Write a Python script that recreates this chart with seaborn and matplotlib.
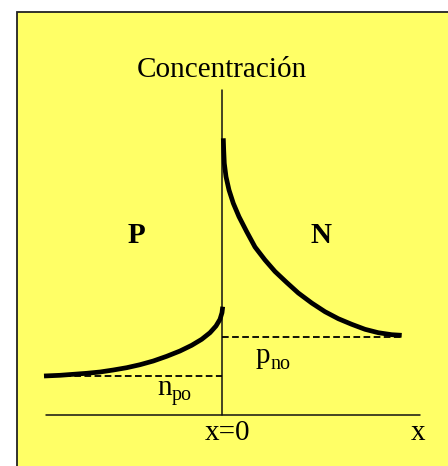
import matplotlib
matplotlib.use('Agg')
import matplotlib.pyplot as plt
from matplotlib.patches import Rectangle
import seaborn as sns

# curve samples (x relative to junction, concentration above baseline)
n_side_x = [1.3, 1.7, 2.3, 4, 7, 11.3, 17, 24.7, 33, 43, 53, 64.7, 76.3, 89.7,
            103, 116.3, 129.7, 143, 156.3, 169.7, 179.7]
n_side_y = [276.7, 265, 251.7, 238.3, 225, 211.7, 198.3, 183.3, 168, 155, 143.5, 132.5, 122, 112,
            103.3, 96.3, 90.7, 85.7, 82.3, 80.3, 79.7]
p_side_x = [-178, -162, -148.7, -135.3, -122, -108.7, -95.3, -82, -68.7, -55.3, -42,
            -30.3, -20.3, -12, -6, -2, 0, 0.7]
p_side_y = [39, 39.7, 40.7, 41.7, 43, 45, 47.3, 50.3, 54, 58.7, 64,
            69.7, 75.7, 82.3, 89, 95.7, 102.3, 108.3]

pno_level = 78.5
npo_level = 39
x_left, x_right = -178, 180

title = 'Concentración'
region_labels = ['P', 'N']

sns.set_style('white')
plt.rcParams.update({
    'font.family': ['Liberation Serif', 'DejaVu Serif'],
    'text.color': 'black',
})
fontsize = 21
subsize = 14.5
yellow = '#FFFF66'

fig = plt.figure(figsize=(4.48, 4.66), dpi=100)
fig.patch.set_facecolor('white')

ax = fig.add_axes([0, 0, 1, 1])
ax.set_facecolor('none')
ax.set_xlim(-222, 226)
ax.set_ylim(-51, 415)
ax.axis('off')

# yellow panel with its frame
ax.add_patch(Rectangle((17 / 448, -0.1), 1.2, 1 - 12 / 466 + 0.1,
                       transform=fig.transFigure, facecolor=yellow,
                       edgecolor='#222222', linewidth=1.3, zorder=0, clip_on=False))

# axes of the diagram
ax.plot([0, 0], [0, 325], color='#111111', lw=1.1)
ax.plot([-176, 198], [0, 0], color='#111111', lw=1.1)

# equilibrium levels
ax.plot([0, x_right], [pno_level, pno_level], color='black', lw=1.3, dashes=(3.7, 1.9))
ax.plot([x_left, 0], [npo_level, npo_level], color='black', lw=1.3, dashes=(3.7, 1.9))

# minority carrier profiles
sns.lineplot(x=n_side_x, y=n_side_y, ax=ax, color='black', lw=3.4, estimator=None,
             solid_capstyle='butt')
sns.lineplot(x=p_side_x, y=p_side_y, ax=ax, color='black', lw=3.4, estimator=None,
             solid_capstyle='butt')

ax.text(0, 338, title, ha='center', va='baseline', fontsize=fontsize, color='black')
ax.text(-86, 172, region_labels[0], ha='center', va='baseline', fontsize=fontsize,
        fontweight='bold', color='black')
ax.text(99, 172, region_labels[1], ha='center', va='baseline', fontsize=fontsize,
        fontweight='bold', color='black')
ax.text(34, 52, 'p', ha='left', va='baseline', fontsize=fontsize, color='black')
ax.text(48.5, 46, 'no', ha='left', va='baseline', fontsize=subsize, color='black')
ax.text(-65, 20, 'n', ha='left', va='baseline', fontsize=fontsize, color='black')
ax.text(-50.5, 15, 'po', ha='left', va='baseline', fontsize=subsize, color='black')
ax.text(5.5, -25, 'x=0', ha='center', va='baseline', fontsize=fontsize, color='black')
ax.text(196.5, -25, 'x', ha='center', va='baseline', fontsize=fontsize, color='black')

fig.savefig('out.png', dpi=100)
